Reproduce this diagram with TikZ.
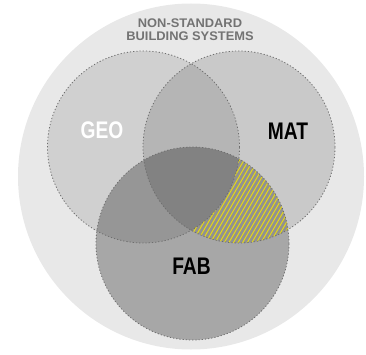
\documentclass[tikz,border=0pt]{standalone}
\usepackage{fontspec}
\setmainfont{Liberation Sans}
\usepackage{tikz}
\definecolor{VennBack}{HTML}{E8E8E8}
\definecolor{VennEdge}{HTML}{6E6E6E}
\definecolor{VennTitle}{HTML}{737373}
\definecolor{VennHatch}{HTML}{E8DA12}

\begin{document}
\begin{tikzpicture}[x=1pt,y=1pt,
    setrim/.style={draw=VennEdge,line width=0.8pt,dash pattern=on 1.2pt off 2pt},
    setlabel/.style={font=\bfseries\fontsize{24}{24}\selectfont,xscale=0.8}]
  \useasboundingbox (0,0) rectangle (366,354);
  % outer field
  \fill[VennBack] (191,177.5) circle (173);
  \node[font=\bfseries\fontsize{12.5}{13}\selectfont,text=VennTitle,align=center,xscale=1.03]
    (title) at (190,324.5) {NON-STANDARD\\BUILDING SYSTEMS};
  % three sets
  \fill[black,fill opacity=0.10] (143.5,207) circle (96);
  \fill[black,fill opacity=0.13] (239,207) circle (96);
  \fill[black,fill opacity=0.28] (192.5,110.5) circle (96.5);
  % MAT and FAB without GEO
  \begin{scope}
    \clip (239,207) circle (96);
    \clip (192.5,110.5) circle (96.5);
    \begin{scope}[even odd rule]
      \clip (0,0) rectangle (366,354) (143.5,207) circle (96);
      \foreach \x in {120,124.6,...,320}
        \draw[VennHatch,line width=0.95pt] (\x,90) -- ++(66,115);
    \end{scope}
  \end{scope}
  \draw[setrim] (143.5,207) circle (96);
  \draw[setrim] (239,207) circle (96);
  \draw[setrim] (192.5,110.5) circle (96.5);
  \node[setlabel,text=white] (geo) at (102,223.5) {GEO};
  \node[setlabel,text=black] (mat) at (288,222.5) {MAT};
  \node[setlabel,text=black] (fab) at (191.5,87.5) {FAB};
\end{tikzpicture}
\end{document}
